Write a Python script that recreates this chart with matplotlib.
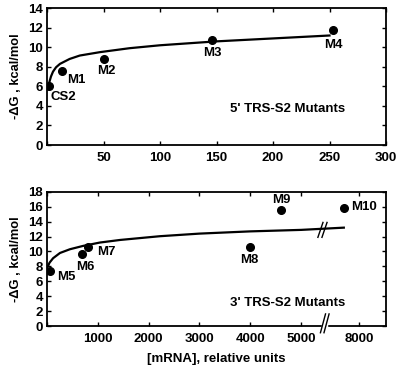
import matplotlib
matplotlib.use("Agg")
import matplotlib.pyplot as plt
import matplotlib.transforms as mtransforms

plt.rcParams["font.family"] = ["Liberation Sans", "DejaVu Sans"]
plt.rcParams["font.weight"] = "bold"
plt.rcParams["font.size"] = 9.5

# 5' TRS-S2 mutants (top panel)
top_names = ["CS2", "M1", "M2", "M3", "M4"]
top_x = [1.5, 13, 50, 146, 253]
top_dg = [6.0, 7.6, 8.8, 10.7, 11.75]
top_fit_x = [1.2, 2, 3.5, 5.3, 8, 11.5, 20, 29, 47, 73, 100, 150, 200, 250]
top_fit_dg = [5.7, 6.4, 7.0, 7.5, 7.95, 8.3, 8.8, 9.15, 9.5, 9.9, 10.2,
              10.6, 10.9, 11.2]

# 3' TRS-S2 mutants (bottom panel), x axis broken between 5000 and 8000
bot_names = ["M5", "M6", "M7", "M8", "M9", "M10"]
bot_x = [60, 690, 810, 4000, 4600, 7700]
bot_dg = [7.4, 9.7, 10.6, 10.6, 15.6, 15.8]
bot_fit_x = [5, 50, 120, 255, 450, 710, 1040, 1440, 2220, 3000, 4000, 5000,
             7700]
bot_fit_dg = [7.8, 8.5, 9.1, 9.8, 10.3, 10.75, 11.2, 11.55, 12.05, 12.4,
              12.7, 12.9, 13.2]
bot_ticks = [1000, 2000, 3000, 4000, 5000, 8000]

# label offsets in pixels (dx, dy, ha)
top_offsets = [(2, -11, "left"), (5, -9, "left"), (3, -12, "center"),
               (0, -13, "center"), (0, -15, "center")]
bot_offsets = [(7, -6, "left"), (3, -13, "center"), (9, -5, "left"),
               (-1, -13, "center"), (1, 10, "center"), (7, 1, "left")]

BREAK_LO = 5000
BREAK_POS = 6140  # where 8000 sits on the drawn axis


def xmap(v):
    # squeeze the part beyond the break onto the axis
    if v <= BREAK_LO:
        return v
    return BREAK_POS + (v - 8000)


def style_axes(ax):
    for s in ax.spines.values():
        s.set_linewidth(1.3)
    ax.tick_params(direction="in", top=True, right=True, length=3,
                   width=1.0, labelsize=9.5, pad=3)
    ax.tick_params(axis="x", pad=5)
    ax.set_ylabel("-\u0394G , kcal/mol", fontsize=9.3, fontweight="bold",
                  labelpad=4)


fig = plt.figure(figsize=(4.0, 3.69), dpi=100)
ax1 = fig.add_axes([0.1175, 0.607, 0.8475, 0.371])
ax2 = fig.add_axes([0.1175, 0.1165, 0.8475, 0.3635])

# top panel
ax1.plot(top_fit_x, top_fit_dg, color="black", lw=1.6)
ax1.plot(top_x, top_dg, "o", color="black", ms=5.5)
for n, x, y, (dx, dy, ha) in zip(top_names, top_x, top_dg, top_offsets):
    ax1.annotate(n, (x, y), xytext=(dx, dy), textcoords="offset pixels",
                 ha=ha, va="center", fontsize=9.5, fontweight="bold")
ax1.set_xlim(0, 300)
ax1.set_ylim(0, 14)
ax1.set_xticks([0, 50, 100, 150, 200, 250, 300])
ax1.set_xticklabels(["", "50", "100", "150", "200", "250", "300"])
ax1.set_yticks(range(0, 15, 2))
ax1.text(0.71, 0.265, "5' TRS-S2 Mutants", transform=ax1.transAxes,
         ha="center", va="center", fontsize=9.5, fontweight="bold")
style_axes(ax1)

# bottom panel
fx = [xmap(v) for v in bot_fit_x]
ax2.plot(fx, bot_fit_dg, color="black", lw=1.6)
px = [xmap(v) for v in bot_x]
ax2.plot(px, bot_dg, "o", color="black", ms=5.5)
for n, x, y, (dx, dy, ha) in zip(bot_names, px, bot_dg, bot_offsets):
    ax2.annotate(n, (x, y), xytext=(dx, dy), textcoords="offset pixels",
                 ha=ha, va="center", fontsize=9.5, fontweight="bold")
ax2.set_xlim(0, 6670)
ax2.set_ylim(0, 18)
ax2.set_xticks([0] + [xmap(v) for v in bot_ticks])
ax2.set_xticklabels([""] + [str(v) for v in bot_ticks])
ax2.set_yticks(range(0, 19, 2))
ax2.text(0.71, 0.175, "3' TRS-S2 Mutants", transform=ax2.transAxes,
         ha="center", va="center", fontsize=9.5, fontweight="bold")
ax2.set_xlabel("[mRNA], relative units", fontsize=9.5, fontweight="bold",
               labelpad=6)
style_axes(ax2)

# break marks on the x axis and on the fit line
trans = mtransforms.blended_transform_factory(ax2.transData, ax2.transAxes)
ax2.plot([5440, 5490], [0, 0], color="white", lw=2.5, transform=trans,
         clip_on=False, zorder=4)
for x0 in (5430, 5500):
    ax2.plot([x0 - 50, x0 + 50], [-0.05, 0.09], color="black", lw=1.0,
             transform=trans, clip_on=False, zorder=5)
for x0 in (5380, 5460):
    ax2.plot([x0 - 50, x0 + 50], [11.9, 13.9], color="black", lw=1.0,
             zorder=5)

fig.savefig("out.png", dpi=100)
